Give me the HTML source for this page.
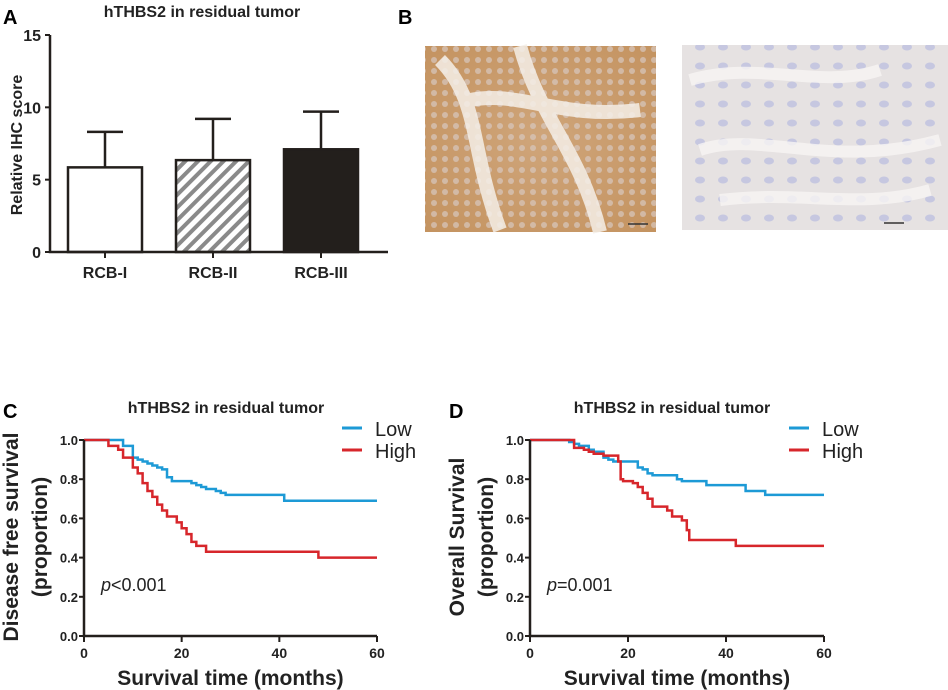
<!DOCTYPE html>
<html><head><meta charset="utf-8"><style>
body{margin:0;background:#fff;}
svg{display:block;font-family:"Liberation Sans",Arial,sans-serif;}
</style></head><body>
<svg id="fig" width="948" height="690" viewBox="0 0 948 690" xmlns="http://www.w3.org/2000/svg">
<defs>
<pattern id="hatch" width="9" height="9" patternUnits="userSpaceOnUse" patternTransform="rotate(45)">
<rect width="9" height="9" fill="#fff"/><rect width="4" height="9" fill="#8a8a8a"/></pattern>
<radialGradient id="brown" cx="50%" cy="50%" r="70%"><stop offset="0" stop-color="#cfa57a"/><stop offset="1" stop-color="#c49360"/></radialGradient>
<pattern id="cellsB" width="11" height="11" patternUnits="userSpaceOnUse"><circle cx="5" cy="5" r="3" fill="#d8c8c0" opacity="0.7"/></pattern>
<pattern id="cellsL" width="23" height="19" patternUnits="userSpaceOnUse"><ellipse cx="10" cy="9" rx="5" ry="3.5" fill="#b8bce0" opacity="0.7"/></pattern>
</defs>
<text x="3" y="24" font-size="20" font-weight="bold">A</text>
<text x="202" y="17" font-size="16" font-weight="bold" text-anchor="middle" fill="#222">hTHBS2 in residual tumor</text>
<g id="barA"></g>
<text x="398" y="24" font-size="20" font-weight="bold">B</text>
<rect x="425" y="46" width="231" height="186" fill="url(#brown)"/>
<rect x="425" y="46" width="231" height="186" fill="url(#cellsB)"/>
<path d="M440,60 C480,100 470,150 500,230 M520,46 C540,120 580,150 600,232 M470,100 C520,90 560,120 640,110" stroke="#f4eee8" stroke-width="14" fill="none" opacity="0.85"/>
<line x1="628" y1="224" x2="648" y2="224" stroke="#333" stroke-width="1.5"/>
<rect x="682" y="45" width="266" height="185" fill="#e6e2e2"/>
<rect x="682" y="45" width="266" height="185" fill="url(#cellsL)"/>
<path d="M690,80 C760,60 820,90 880,70 M700,150 C760,130 830,170 940,140 M720,200 C800,190 860,210 930,190" stroke="#f7f5f4" stroke-width="12" fill="none" opacity="0.8"/>
<line x1="884" y1="223" x2="904" y2="223" stroke="#333" stroke-width="1.5"/>
<text x="3" y="418" font-size="20" font-weight="bold">C</text>
<text x="449" y="418" font-size="20" font-weight="bold">D</text>
<g id="kmC"></g>
<g id="kmD"></g>
</svg>
<script>
const NS="http://www.w3.org/2000/svg";
function mk(p,tag,at,txt){const e=document.createElementNS(NS,tag);for(const k in at)e.setAttribute(k,at[k]);if(txt!=null)e.textContent=txt;p.appendChild(e);return e;}
// Panel A data
const barCats=["RCB-I","RCB-II","RCB-III"];
const barMeans=[5.85,6.35,7.1];
const barErrTop=[8.3,9.2,9.7];
const barTicks=[0,5,10,15];
const barFills=["#fff","url(#hatch)","#231f1c"];
(function(){
 const g=document.getElementById('barA');
 const x0=50,x1=388,yB=252,yT=35;
 const ys=v=>yB-(v/15)*(yB-yT);
 const xc=i=>105+i*108;
 mk(g,'text',{x:22,y:145,'font-size':16,'font-weight':'bold','text-anchor':'middle',transform:'rotate(-90 22 145)',fill:'#222',},'Relative IHC score');
 barTicks.forEach(t=>{
  const tk=mk(g,'line',{x1:x0-5,x2:x0,y1:ys(t),y2:ys(t),stroke:'#231f1c','stroke-width':2});
  
  const tl=mk(g,'text',{x:x0-9,y:ys(t)+6,'font-size':16,'font-weight':'bold','text-anchor':'end',fill:'#222'},t);
  
 });
 barCats.forEach((c,i)=>{
  const cx=xc(i);
  const eb=mk(g,'path',{d:`M${cx},${ys(barMeans[i])} V${ys(barErrTop[i])} M${cx-18},${ys(barErrTop[i])} H${cx+18}`,stroke:'#231f1c','stroke-width':2.5,fill:'none'});
  
  const r=mk(g,'rect',{x:cx-37,y:ys(barMeans[i]),width:74,height:yB-ys(barMeans[i]),fill:barFills[i],stroke:'#231f1c','stroke-width':2.5});
  
  const tk=mk(g,'line',{x1:cx,x2:cx,y1:yB,y2:yB+6,stroke:'#231f1c','stroke-width':2});
  
  const tl=mk(g,'text',{x:cx,y:yB+26,'font-size':16,'font-weight':'bold','text-anchor':'middle',fill:'#222'},c);
  
 });
 const ax=mk(g,'path',{d:`M${x0},${yT} V${yB} H${x1}`,stroke:'#231f1c','stroke-width':2.5,fill:'none'});
 
})();
// KM data [month, survival]
const kmTicksX=[0,20,40,60];
const kmTicksY=[0,0.2,0.4,0.6,0.8,1.0];
const dfsLow=[[0,1],[8,.97],[10,.91],[11,.90],[12,.89],[13,.88],[14,.87],[15,.86],[16,.85],[17,.81],[18,.79],[22,.78],[23,.77],[24,.76],[25,.75],[27,.74],[28,.73],[29,.72],[41,.69],[60,.69]];
const dfsHigh=[[0,1],[5,.97],[7,.95],[8,.91],[10,.86],[11,.83],[12,.78],[13,.74],[14,.71],[15,.67],[16,.64],[17,.61],[19,.58],[20,.55],[21,.52],[22,.48],[23,.46],[25,.43],[48,.40],[60,.40]];
const osLow=[[0,1],[8,.99],[9,.98],[10,.97],[12,.95],[13,.94],[15,.91],[16,.90],[17,.89],[22,.86],[23,.85],[24,.83],[25,.82],[30,.80],[31,.79],[36,.77],[44,.74],[48,.72],[60,.72]];
const osHigh=[[0,1],[9,.96],[11,.95],[12,.94],[13,.93],[15,.92],[18,.89],[18.5,.80],[19,.79],[21,.78],[22,.76],[23,.73],[24,.70],[25,.66],[28,.64],[29,.61],[31,.59],[32,.54],[32.5,.49],[42,.46],[60,.46]];
function km(id,x0,x1,ytitle1,ytitle2,pText,low,high,titleX){
 const g=document.getElementById(id);
 const yB=636,yT=440;
 const xs=m=>x0+m/60*(x1-x0), ys=v=>yB-v*(yB-yT);
 mk(g,'text',{x:titleX,y:413,'font-size':16,'font-weight':'bold','text-anchor':'middle',fill:'#222',},'hTHBS2 in residual tumor');
 const tx=x0-66;
 mk(g,'text',{x:tx,y:537,'font-size':21,'font-weight':'bold','text-anchor':'middle',transform:`rotate(-90 ${tx} 537)`,fill:'#222',},ytitle1);
 mk(g,'text',{x:tx+29,y:537,'font-size':21,'font-weight':'bold','text-anchor':'middle',transform:`rotate(-90 ${tx+29} 537)`,fill:'#222',},ytitle2);
 kmTicksY.forEach(t=>{
  const l=mk(g,'line',{x1:x0-5,x2:x0,y1:ys(t),y2:ys(t),stroke:'#231f1c','stroke-width':2});
  
  const tl=mk(g,'text',{x:x0-6,y:ys(t)+5,'font-size':13,'font-weight':'bold','text-anchor':'end',fill:'#222'},t.toFixed(1));
  
 });
 kmTicksX.forEach(t=>{
  const l=mk(g,'line',{x1:xs(t),x2:xs(t),y1:yB,y2:yB+6,stroke:'#231f1c','stroke-width':2});
  
  const tl=mk(g,'text',{x:xs(t),y:yB+22,'font-size':14,'font-weight':'bold','text-anchor':'middle',fill:'#222'},t);
  
 });
 mk(g,'text',{x:(x0+x1)/2,y:685,'font-size':21,'font-weight':'bold','text-anchor':'middle',fill:'#222',},'Survival time (months)');
 function step(data){let d=`M${xs(data[0][0])},${ys(data[0][1])}`;for(let i=1;i<data.length;i++){d+=` H${xs(data[i][0])} V${ys(data[i][1])}`;}return d;}
 const pl=mk(g,'path',{d:step(low),stroke:'#1d9ad6','stroke-width':2.5,fill:'none'});
 
 const ph=mk(g,'path',{d:step(high),stroke:'#d7262b','stroke-width':2.5,fill:'none'});
 
 const ax=mk(g,'path',{d:`M${x0},${yT} V${yB} H${x1}`,stroke:'#231f1c','stroke-width':2.5,fill:'none'});
 
 const lx=x1-35;
 const le1=mk(g,'g',{});
 mk(le1,'line',{x1:lx,x2:lx+20,y1:428,y2:428,stroke:'#1d9ad6','stroke-width':3});
 mk(le1,'text',{x:lx+33,y:436,'font-size':20,fill:'#222'},'Low');
 const le2=mk(g,'g',{});
 mk(le2,'line',{x1:lx,x2:lx+20,y1:450,y2:450,stroke:'#d7262b','stroke-width':3});
 mk(le2,'text',{x:lx+33,y:458,'font-size':20,fill:'#222'},'High');
 const pt=mk(g,'text',{x:x0+17,y:591,'font-size':18,fill:'#222'});
 
 mk(pt,'tspan',{'font-style':'italic'},'p');mk(pt,'tspan',{},pText);
}
km('kmC',84,377,'Disease free survival','(proportion)','<0.001',dfsLow,dfsHigh,226);
km('kmD',530,824,'Overall Survival','(proportion)','=0.001',osLow,osHigh,672);
</script>
</body></html>
